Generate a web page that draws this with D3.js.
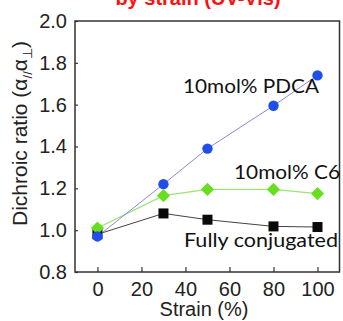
<!DOCTYPE html>
<html><head><meta charset="utf-8">
<script src="https://cdn.jsdelivr.net/npm/d3@7"></script>
<style>html,body{margin:0;padding:0;background:#fff;overflow:hidden}</style>
</head><body>
<svg id="c" width="343" height="321"></svg>
<script>
const strain = [0, 30, 50, 80, 100];
const pdca = [0.97, 1.22, 1.39, 1.595, 1.74];
const c6 = [1.01, 1.165, 1.195, 1.195, 1.175];
const fully = [0.98, 1.08, 1.05, 1.018, 1.015];
const xTicks = [0, 20, 40, 60, 80, 100];
const yTicks = [0.8, 1.0, 1.2, 1.4, 1.6, 1.8, 2.0];
const seriesNames = ["10mol% PDCA", "10mol% C6", "Fully conjugated"];

const svg = d3.select("#c");
const L = 75, R = 339.5, T = 21, B = 272;
const x = d3.scaleLinear().domain([-10.2, 110]).range([L, R]);
const y = d3.scaleLinear().domain([0.8, 2.0]).range([B, T]);

// title (clipped at top, as in the reference)
svg.append("text").attr("x", 198).attr("y", 5).attr("text-anchor", "middle")
  .attr("font-family", "Liberation Sans, Arial, sans-serif").attr("font-weight", "bold")
  .attr("font-size", 20).attr("fill", "#ff1010").text("by strain (UV-Vis)");

// frame
svg.append("rect").attr("x", L).attr("y", T).attr("width", R - L).attr("height", B - T)
  .attr("fill", "none").attr("stroke", "#333").attr("stroke-width", 1.5);

const fontAx = "Liberation Sans, Arial, sans-serif";
const xAxis = svg.append("g").attr("transform", `translate(0,${B})`)
  .call(d3.axisBottom(x).tickValues(xTicks).tickFormat(d3.format("d")).tickSize(-5).tickPadding(9.5));
xAxis.select(".domain").remove();
xAxis.selectAll("line").attr("stroke", "#333").attr("stroke-width", 1.2);
xAxis.selectAll("text").attr("font-family", fontAx).attr("font-size", 20).attr("fill", "#222");

const yAxis = svg.append("g").attr("transform", `translate(${L},0)`)
  .call(d3.axisLeft(y).tickValues(yTicks).tickFormat(d3.format(".1f")).tickSize(-3).tickPadding(8));
yAxis.select(".domain").remove();
yAxis.selectAll("line").attr("stroke", "#333").attr("stroke-width", 1.2);
yAxis.selectAll("text").attr("font-family", fontAx).attr("font-size", 20).attr("fill", "#222");

// axis titles
svg.append("text").attr("x", 204).attr("y", 316).attr("text-anchor", "middle")
  .attr("font-family", fontAx).attr("font-size", 20).attr("fill", "#222").text("Strain (%)");

const yl = svg.append("text").attr("transform", "translate(27,226) rotate(-90)")
  .attr("font-family", fontAx).attr("font-size", 21).attr("fill", "#222");
yl.append("tspan").text("Dichroic ratio (α");
yl.append("tspan").attr("font-size", 13).attr("dy", 5).text("//");
yl.append("tspan").attr("dy", -5).text("α");
yl.append("tspan").attr("font-size", 13).attr("dy", 5).text("⊥");
yl.append("tspan").attr("dy", -5).text(")");

// lines
const line = d3.line().x((d, i) => x(strain[i])).y(d => y(d));
svg.append("path").datum(fully).attr("d", line).attr("fill", "none").attr("stroke", "#444").attr("stroke-width", 1);
svg.append("path").datum(c6).attr("d", line).attr("fill", "none").attr("stroke", "#9be27a").attr("stroke-width", 1.2);
svg.append("path").datum(pdca).attr("d", line).attr("fill", "none").attr("stroke", "#8a86d8").attr("stroke-width", 1);

// markers
svg.selectAll(".sq").data(fully).join("rect")
  .attr("x", (d, i) => x(strain[i]) - 5).attr("y", d => y(d) - 5)
  .attr("width", 10).attr("height", 10).attr("fill", "#0a0a0a");
svg.selectAll(".dm").data(c6).join("path")
  .attr("d", d3.symbol(d3.symbolDiamond2, 110))
  .attr("transform", (d, i) => `translate(${x(strain[i])},${y(d)})`)
  .attr("fill", "#66e01e");
svg.selectAll(".ci").data(pdca).join("circle")
  .attr("cx", (d, i) => x(strain[i])).attr("cy", d => y(d)).attr("r", 5.2)
  .attr("fill", "#1f4fe8");

// annotations
const fontAn = "Lato, Carlito, Open Sans, sans-serif";
const ann = [[183, 93, 136], [234, 179, 106], [184, 247, 154]];
ann.forEach((a, i) => {
  svg.append("text").attr("x", a[0]).attr("y", a[1]).attr("textLength", a[2])
    .attr("lengthAdjust", "spacingAndGlyphs")
    .attr("font-family", fontAn).attr("font-size", 20).attr("fill", "#111").text(seriesNames[i]);
});
</script>
</body></html>
